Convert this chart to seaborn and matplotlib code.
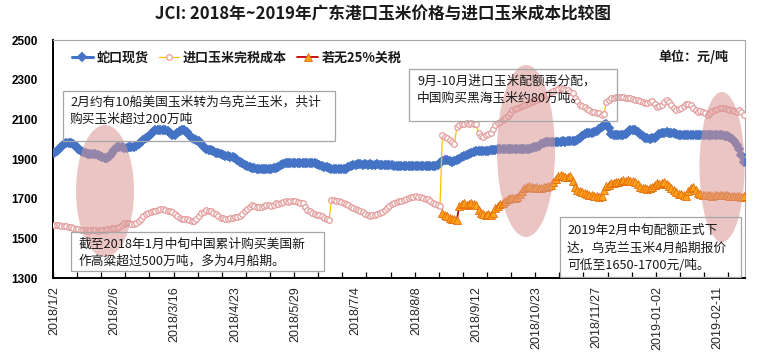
import numpy as np
import pandas as pd
import matplotlib
matplotlib.use("Agg")
import matplotlib.pyplot as plt
from matplotlib.patches import Ellipse, Rectangle
from matplotlib.lines import Line2D
import seaborn as sns

# ---------------- data ----------------
tick_labels = ['2018/1/2', '2018/2/6', '2018/3/16', '2018/4/23', '2018/5/29', '2018/7/4',
               '2018/8/8', '2018/9/12', '2018/10/23', '2018/11/27', '2019-01-02', '2019-02-11']

shekou = [
    1930, 1940, 1950, 1962, 1975, 1980, 1981, 1980, 1978, 1965,
    1950, 1940, 1935, 1930, 1925, 1925, 1924, 1925, 1922, 1915,
    1908, 1905, 1907, 1915, 1930, 1945, 1958, 1962, 1960, 1955,
    1956, 1958, 1960, 1962, 1968, 1978, 1987, 1995, 2005, 2013,
    2025, 2038, 2046, 2046, 2045, 2046, 2046, 2040, 2032, 2022,
    2020, 2030, 2042, 2046, 2044, 2035, 2022, 2008, 2000, 1996,
    1990, 1978, 1962, 1950, 1946, 1945, 1938, 1932, 1930, 1925,
    1918, 1915, 1913, 1912, 1911, 1905, 1895, 1885, 1878, 1872,
    1866, 1860, 1856, 1853, 1851, 1850, 1850, 1850, 1850, 1851,
    1852, 1853, 1856, 1862, 1870, 1876, 1879, 1880, 1881, 1880,
    1881, 1880, 1880, 1881, 1880, 1881, 1880, 1879, 1878, 1875,
    1870, 1866, 1862, 1858, 1853, 1850, 1849, 1848, 1848, 1849,
    1850, 1852, 1858, 1864, 1869, 1872, 1873, 1873, 1872, 1873,
    1872, 1873, 1872, 1872, 1873, 1872, 1871, 1872, 1871, 1870,
    1868, 1866, 1865, 1865, 1866, 1865, 1864, 1865, 1866, 1865,
    1865, 1864, 1865, 1865, 1866, 1865, 1864, 1865, 1866, 1872,
    1880, 1888, 1895, 1893, 1888, 1886, 1888, 1894, 1902, 1910,
    1915, 1920, 1925, 1930, 1936, 1940, 1941, 1940, 1941, 1942,
    1942, 1943, 1944, 1946, 1948, 1949, 1949, 1950, 1949, 1948,
    1949, 1950, 1949, 1950, 1949, 1950, 1950, 1951, 1955, 1958,
    1962, 1968, 1975, 1980, 1985, 1987, 1988, 1987, 1988, 1987,
    1988, 1989, 1988, 1989, 1990, 1990, 1991, 1996, 2005, 2015,
    2025, 2030, 2030, 2032, 2036, 2042, 2052, 2062, 2070, 2075,
    2055, 2025, 2021, 2020, 2021, 2020, 2022, 2028, 2038, 2045,
    2046, 2044, 2036, 2026, 2015, 2008, 2004, 2003, 2004, 2008,
    2016, 2026, 2032, 2033, 2034, 2033, 2032, 2030, 2026, 2023,
    2021, 2021, 2020, 2021, 2020, 2021, 2020, 2021, 2020, 2021,
    2020, 2021, 2020, 2021, 2021, 2020, 2021, 2020, 2018, 2016,
    2012, 2002, 1990, 1970, 1948, 1920, 1885,
]

import_cost = [
    1567, 1566, 1565, 1562, 1560, 1562, 1558, 1556, 1552, 1548,
    1545, 1542, 1540, 1540, 1538, 1540, 1542, 1540, 1538, 1540,
    1542, 1540, 1545, 1548, 1550, 1552, 1550, 1555, 1565, 1575,
    1578, 1576, 1574, 1572, 1575, 1585, 1598, 1612, 1625, 1630,
    1632, 1636, 1640, 1645, 1648, 1646, 1642, 1640, 1636, 1632,
    1622, 1612, 1605, 1600, 1598, 1595, 1590, 1585, 1588, 1600,
    1615, 1626, 1635, 1642, 1640, 1636, 1630, 1622, 1612, 1605,
    1602, 1600, 1600, 1602, 1605, 1608, 1610, 1615, 1625, 1638,
    1650, 1660, 1668, 1665, 1660, 1656, 1660, 1665, 1670, 1666,
    1662, 1670, 1677, 1675, 1680, 1684, 1686, 1684, 1686, 1690,
    1687, 1682, 1678, 1676, 1660, 1643, 1636, 1630, 1625, 1620,
    1618, 1612, 1605, 1596, 1590, 1693, 1695, 1690, 1688, 1685,
    1680, 1674, 1668, 1660, 1652, 1648, 1645, 1640, 1632, 1625,
    1618, 1614, 1616, 1620, 1625, 1630, 1635, 1645, 1655, 1665,
    1672, 1678, 1682, 1686, 1690, 1695, 1700, 1705, 1708, 1710,
    1712, 1710, 1706, 1702, 1700, 1698, 1690, 1680, 1672, 1668,
    1665, 2021, 2012, 2004, 1995, 1985, 1975, 2063, 2071, 2075,
    2078, 2080, 2076, 2080, 2078, 2075, 2030, 2015, 2013, 2020,
    2025, 2030, 2050, 2071, 2080, 2088, 2095, 2105, 2115, 2130,
    2147, 2150, 2155, 2160, 2168, 2172, 2175, 2180, 2185, 2192,
    2200, 2205, 2212, 2218, 2223, 2230, 2238, 2245, 2250, 2255,
    2256, 2252, 2250, 2248, 2240, 2231, 2210, 2190, 2170, 2165,
    2160, 2150, 2145, 2139, 2135, 2132, 2130, 2122, 2125, 2189,
    2200, 2206, 2210, 2212, 2214, 2212, 2214, 2210, 2208, 2206,
    2205, 2200, 2195, 2190, 2185, 2182, 2181, 2185, 2190, 2175,
    2164, 2168, 2172, 2185, 2197, 2185, 2170, 2155, 2147, 2150,
    2155, 2165, 2175, 2178, 2170, 2155, 2145, 2139, 2140, 2138,
    2130, 2122, 2130, 2140, 2145, 2150, 2155, 2158, 2155, 2150,
    2148, 2145, 2142, 2139, 2145, 2135, 2122,
]

no_tariff_known = [
                1626, 1620, 1612, 1605, 1600, 1598, 1593, 1665, 1672,
    1677, 1670, 1675, 1680, 1672, 1668, 1645, 1630, 1622, 1618,
    1625, 1620, 1628, 1655, 1665, 1675, 1680, 1690, 1700, 1702,
    1705, 1702, 1710, 1725, 1740, 1755, 1760, 1762, 1758, 1755,
    1758, 1755, 1752, 1758, 1760, 1765, 1770, 1785, 1800, 1815,
    1819, 1812, 1808, 1810, 1812, 1790, 1760, 1745, 1738, 1732,
    1730, 1725, 1720, 1718, 1715, 1712, 1710, 1712, 1745, 1762,
    1770, 1778, 1780, 1784, 1786, 1790, 1792, 1790, 1792, 1790,
    1788, 1786, 1775, 1760, 1752, 1755, 1750, 1752, 1760, 1770,
    1778, 1775, 1780, 1786, 1775, 1762, 1755, 1745, 1735, 1725,
    1722, 1718, 1715, 1740, 1755, 1760, 1745, 1730, 1725, 1720,
    1718, 1718, 1720, 1715, 1718, 1720, 1716, 1718, 1720, 1718,
    1714, 1712, 1712, 1715, 1712, 1710, 1712,
]
# series only exists for the last part of the period (missing before)
no_tariff = [np.nan] * (len(shekou) - len(no_tariff_known)) + no_tariff_known

series_names = ['蛇口现货', '进口玉米完税成本', '若无25%关税']

n = len(shekou)
df = pd.DataFrame({'idx': np.arange(n), 'shekou': shekou,
                   'cost': import_cost, 'notariff': no_tariff})

# ---------------- style ----------------
sns.set_theme(style='white')
plt.rcParams['font.family'] = ['Liberation Sans', 'Noto Sans CJK SC', 'DejaVu Sans']
plt.rcParams['axes.unicode_minus'] = False
CJK = ['Noto Sans CJK SC', 'Liberation Sans']

fig = plt.figure(figsize=(7.68, 3.6), dpi=100)
ax = fig.add_axes([53 / 768, 1 - 278 / 360, 692 / 768, 238 / 360])

blue_kw = dict(color='#4472C4', linewidth=2.2, marker='D', markersize=5.0,
               markerfacecolor='#4472C4', markeredgecolor='#4472C4', markeredgewidth=0.3)
pink_kw = dict(color='#FFC000', linewidth=0.9, marker='o', markersize=4.0,
               markerfacecolor='white', markeredgecolor='#E39C9C', markeredgewidth=0.9)
tri_kw = dict(color='#C00000', linewidth=1.3, marker='^', markersize=6.0,
              markerfacecolor='#FFA31A', markeredgecolor='#E26B0A', markeredgewidth=0.6)

sns.lineplot(data=df, x='idx', y='shekou', ax=ax, estimator=None, sort=False,
             label=series_names[0], zorder=3, **blue_kw)
sns.lineplot(data=df, x='idx', y='cost', ax=ax, estimator=None, sort=False,
             label=series_names[1], zorder=3, **pink_kw)
sns.lineplot(data=df.dropna(subset=['notariff']), x='idx', y='notariff', ax=ax,
             estimator=None, sort=False, label=series_names[2], zorder=4, **tri_kw)

ax.set_xlim(-0.5, n - 0.5)
ax.set_ylim(1300, 2500)
ax.set_xlabel('')
ax.set_ylabel('')

# y axis
ax.set_yticks(np.arange(1300, 2501, 200))
ax.tick_params(axis='y', length=0, pad=11)
for lab in ax.get_yticklabels():
    lab.set_fontweight('bold')
    lab.set_fontsize(8.5)
    lab.set_color('black')

# x axis: labels every 25 categories, tick marks every 10 categories
ax.set_xticks(np.arange(0, 25 * len(tick_labels), 25))
ax.set_xticklabels(tick_labels, rotation=90, fontsize=9, color='#262626')
ax.set_xticks(np.arange(-0.5, n, 10), minor=True)
ax.tick_params(axis='x', which='major', length=0, pad=6)
ax.tick_params(axis='x', which='minor', direction='in', length=4, width=0.9,
               color='black', bottom=True)

for side in ['left', 'bottom']:
    ax.spines[side].set_color('black')
    ax.spines[side].set_linewidth(1.4)
for side in ['top', 'right']:
    ax.spines[side].set_color('#A6A6A6')
    ax.spines[side].set_linewidth(0.8)
ax.grid(False)

# highlight ellipses (drawn on top of the lines)
def px2data(px, py):
    return ((px - 53) / 692 * n - 0.5, 2500 - (py - 40) / 238 * 1200)

for (cx, cy, w, h) in [(105, 191, 58, 132), (526, 151, 58, 172), (722, 167, 45, 150)]:
    dx, dy = px2data(cx, cy)
    ell = Ellipse((dx, dy), width=w / 692 * n, height=h / 238 * 1200,
                  facecolor='#D99694', edgecolor='none', alpha=0.55, zorder=6)
    ax.add_patch(ell)

# annotation boxes (transparent fill, grey border)
def ax_frac(px, py):
    return ((px - 53) / 692, (278 - py) / 238)

boxes = [
    ((63, 91, 335, 141), (70, 111), '2月约有10船美国玉米转为乌克兰玉米，共计\n购买玉米超过200万吨', 1.4),
    ((409, 69, 617, 121), (417, 90), '9月-10月进口玉米配额再分配，\n中国购买黑海玉米约80万吨。', 1.4),
    ((71, 232, 324, 271), (79, 253), '截至2018年1月中旬中国累计购买美国新\n作高粱超过500万吨，多为4月船期。', 1.4),
    ((560, 217, 741, 277), (567, 248), '2019年2月中旬配额正式下\n达，乌克兰玉米4月船期报价\n可低至1650-1700元/吨。', 1.45),
]
for (x0, y0, x1, y1), (tx, ty), txt, ls in boxes:
    fx0, fy1 = ax_frac(x0, y1)
    fx1, fy0 = ax_frac(x1, y0)
    ax.add_patch(Rectangle((fx0, fy1), fx1 - fx0, fy0 - fy1, transform=ax.transAxes,
                           facecolor='none', edgecolor='#A6A6A6', linewidth=0.9,
                           zorder=7, clip_on=False))
    fx, fy = ax_frac(tx, ty)
    ax.text(fx, fy, txt, transform=ax.transAxes, ha='left', va='center',
            fontsize=9.2, family=CJK, color='#1a1a1a', linespacing=ls, zorder=8)

# legend
handles = [Line2D([], [], **blue_kw), Line2D([], [], **pink_kw), Line2D([], [], **tri_kw)]
lx, ly = ax_frac(72, 58)
leg = ax.legend(handles, series_names, loc='center left', bbox_to_anchor=(lx, ly),
                ncol=3, frameon=False, borderpad=0, borderaxespad=0,
                handlelength=1.6, handletextpad=0.25, columnspacing=0.8,
                prop={'family': CJK, 'weight': 'bold', 'size': 9.4})
for t in leg.get_texts():
    t.set_color('#1a1a1a')

ux, uy = ax_frac(728, 57)
ax.text(ux, uy, '单位：元/吨', transform=ax.transAxes, ha='right', va='center',
        fontsize=9.4, fontweight='bold', family=CJK, color='#1a1a1a')

fig.text(383 / 768, 1 - 15 / 360, 'JCI: 2018年~2019年广东港口玉米价格与进口玉米成本比较图',
         ha='center', va='center', fontsize=12, fontweight='bold', family=CJK, color='#1a1a1a')

fig.savefig('out.png', dpi=100, facecolor='white')
